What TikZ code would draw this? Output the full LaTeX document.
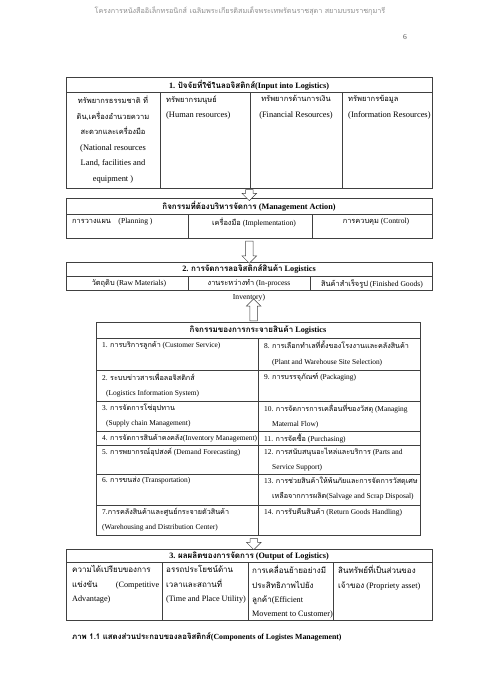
\documentclass[tikz,border=0pt]{standalone}
\usepackage{fontspec}
\setmainfont{Liberation Serif}
\newfontfamily\thaifont[Script=Thai]{Loma}
\newcommand{\thsz}{8}
\newcommand{\tha}[1]{{\thaifont\fontsize{\thsz}{\baselineskip}\selectfont #1}}
\newcommand{\comma}{,}
\usetikzlibrary{shapes.arrows,positioning}

\begin{document}
\begin{tikzpicture}[x=1pt,y=-1pt,
    frame/.style={draw=black!75,line width=0.6pt},
    cell/.style={inner sep=0pt,font=\fontsize{8.4}{15.6}\selectfont\renewcommand{\thsz}{7.5}},
    mid/.style={inner sep=0pt,font=\fontsize{7.6}{14}\selectfont\renewcommand{\thsz}{7.4}},
    dcell/.style={inner sep=0pt,anchor=north west,align=left,
      font=\fontsize{7.4}{15.3}\selectfont\renewcommand{\thsz}{7.2}},
    outcell/.style={inner sep=0pt,anchor=north west,align=left,
      font=\fontsize{8.2}{14.2}\selectfont\renewcommand{\thsz}{8}},
    head/.style={inner sep=0pt,font=\fontsize{8.2}{10}\selectfont\bfseries\renewcommand{\thsz}{8}},
    flow/.style={single arrow,draw=black!75,fill=white,line width=0.5pt,
      inner xsep=0pt,inner ysep=3.5pt,single arrow head extend=3.5pt,minimum height=11pt}]
  \useasboundingbox (0,0) rectangle (480,679);

  % page header
  \node[inner sep=0pt,font=\fontsize{7}{7}\selectfont\renewcommand{\thsz}{7.2},text=black!45] (hdr) at (240,11)
    {\tha{โครงการหนังสืออิเล็กทรอนิกส์ เฉลิมพระเกียรติสมเด็จพระเทพรัตนราชสุดา สยามบรมราชกุมารี}};
  \node[inner sep=0pt,font=\fontsize{7.5}{8}\selectfont,text=black!70] (pg) at (405,37) {6};

  % 1. input
  \node[frame,minimum width=366pt,minimum height=111pt,anchor=north west,inner sep=0pt] (input) at (66,77) {};
  \draw[frame] (66,92) -- (432,92);
  \foreach \x in {160,250,342} \draw[frame] (\x,92) -- (\x,188);
  \node[head] (t1) at (249,85) {1. \tha{ปัจจัยที่ใช้ในลอจิสติกส์}(Input into Logistics)};
  \node[cell,anchor=north,align=center] (nat) at (113,95.5)
    {\tha{ทรัพยากรธรรมชาติ ที่}\\\tha{ดิน,เครื่องอำนวยความ}\\\tha{สะดวกและเครื่องมือ}\\(National resources\\Land, facilities and\\equipment )};
  \node[cell,anchor=north west,align=left] (human) at (166,95.5) {\tha{ทรัพยากรมนุษย์}\\(Human resources)};
  \node[cell,anchor=north,align=center] (fin) at (296,95.5) {\tha{ทรัพยากรด้านการเงิน}\\(Financial Resources)};
  \node[cell,anchor=north west,align=left] (info) at (348,95.5) {\tha{ทรัพยากรข้อมูล}\\(Information Resources)};

  % management action
  \node[frame,minimum width=366pt,minimum height=40pt,anchor=north west,inner sep=0pt] (action) at (66,198) {};
  \draw[frame] (66,214) -- (432,214);
  \foreach \x in {188,312} \draw[frame] (\x,214) -- (\x,238);
  \node[head] (t2) at (249,206) {\tha{กิจกรรมที่ต้องบริหารจัดการ} (Management Action)};
  \node[mid,anchor=north west] (plan) at (72,218) {\tha{การวางแผน}\quad(Planning )};
  \node[mid,anchor=north] (impl) at (254,218) {\tha{เครื่องมือ} (Implementation)};
  \node[mid,anchor=north] (ctrl) at (376,218) {\tha{การควบคุม} (Control)};

  % 2. logistics of goods
  \node[frame,minimum width=366pt,minimum height=28pt,anchor=north west,inner sep=0pt] (goods) at (66,262) {};
  \draw[frame] (66,276) -- (432,276);
  \foreach \x in {188,310} \draw[frame] (\x,276) -- (\x,290);
  \node[head] (t3) at (249,269) {2. \tha{การจัดการลอจิสติกส์สินค้า} Logistics};
  \node[mid,anchor=north] (raw) at (129,279.5) {\tha{วัตถุดิบ} (Raw Materials)};
  \node[mid,anchor=north,align=center] (wip) at (249,279.5) {\tha{งานระหว่างทำ} (In-process\\Inventory)};
  \node[mid,anchor=north] (fg) at (372,279.5) {\tha{สินค้าสำเร็จรูป} (Finished Goods)};

  % distribution activities
  \node[frame,minimum width=324pt,minimum height=213pt,anchor=north west,inner sep=0pt] (dist) at (96,322) {};
  \draw[frame] (96,338) -- (420,338);
  \draw[frame] (258,338) -- (258,535);
  \node[head] (t4) at (258,330) {\tha{กิจกรรมของการกระจายสินค้า} Logistics};
  \foreach \ya/\yb/\l/\r [count=\i] in {
      338/370/{1. \tha{การบริการลูกค้า} (Customer Service)}/{8. \tha{การเลือกทำเลที่ตั้งของโรงงานและคลังสินค้า}\\\hspace*{8pt}(Plant and Warehouse Site Selection)},
      370/401/{2. \tha{ระบบข่าวสารเพื่อลอจิสติกส์}\\\hspace*{4pt}(Logistics Information System)}/{9. \tha{การบรรจุภัณฑ์} (Packaging)},
      401/431/{3. \tha{การจัดการโซ่อุปทาน}\\\hspace*{4pt}(Supply chain Management)}/{10. \tha{การจัดการการเคลื่อนที่ของวัสดุ} (Managing\\\hspace*{8pt}Maternal Flow)},
      431/445/{4. \tha{การจัดการสินค้าคงคลัง}(Inventory Management)}/{11. \tha{การจัดซื้อ} (Purchasing)},
      445/474/{5. \tha{การพยากรณ์อุปสงค์} (Demand Forecasting)}/{12. \tha{การสนับสนุนอะไหล่และบริการ} (Parts and\\\hspace*{8pt}Service Support)},
      474/505/{6. \tha{การขนส่ง} (Transportation)}/{13. \tha{การช่วยสินค้าให้พ้นภัยและการจัดการวัสดุเศษ}\\\hspace*{8pt}\tha{เหลือจากการผลิต}(Salvage and Scrap Disposal)},
      505/535/{7.\tha{การคลังสินค้าและศูนย์กระจายตัวสินค้า}\\(Warehousing and Distribution Center)}/{14. \tha{การรับคืนสินค้า} (Return Goods Handling)}}
  {
    \node[dcell] (l\i) at (102,\ya+3) {\l};
    \node[dcell] (r\i) at (264,\ya+3) {\r};
    \draw[frame] (96,\yb) -- (420,\yb);
  }

  % 3. output
  \node[frame,minimum width=366pt,minimum height=71pt,anchor=north west,inner sep=0pt] (output) at (66,549) {};
  \draw[frame] (66,562) -- (432,562);
  \foreach \x in {162,248,333} \draw[frame] (\x,562) -- (\x,620);
  \node[head] (t5) at (249,556) {3. \tha{ผลผลิตของการจัดการ} (Output of Logistics)};
  \node[outcell,text width=87pt] (comp) at (72,565.5) {\tha{ความได้เปรียบของการ}\\\tha{แข่งขัน}\hfill(Competitive\\Advantage)};
  \node[outcell] (util) at (166,565.5) {\tha{อรรถประโยชน์ด้าน}\\\tha{เวลาและสถานที่}\\(Time and Place Utility)};
  \node[outcell] (move) at (252,565.5) {\tha{การเคลื่อนย้ายอย่างมี}\\\tha{ประสิทธิภาพไปยัง}\\\tha{ลูกค้า}(Efficient\\Movement to Customer)};
  \node[outcell] (asset) at (338,565.5) {\tha{สินทรัพย์ที่เป็นส่วนของ}\\\tha{เจ้าของ} (Propriety asset)};

  % caption
  \node[head,anchor=west,font=\fontsize{7.8}{10}\selectfont\bfseries\renewcommand{\thsz}{7.8}] (cap) at (72,637)
    {\tha{ภาพ 1.1 แสดงส่วนประกอบของลอจิสติกส์}(Components of Logistes Management)};

  % block arrows between the parts
  \path (input.south) -- node[flow,rotate=-90] (a1) {} (action.north);
  \path (action.south) -- node[flow,rotate=-90,minimum height=22pt] (a2) {} (goods.north);
  \path (wip.south) -- node[flow,rotate=90,minimum height=22pt] (a3) {} (dist.north);
  \path (dist.south) -- node[flow,rotate=-90] (a4) {} (output.north);
\end{tikzpicture}
\end{document}
